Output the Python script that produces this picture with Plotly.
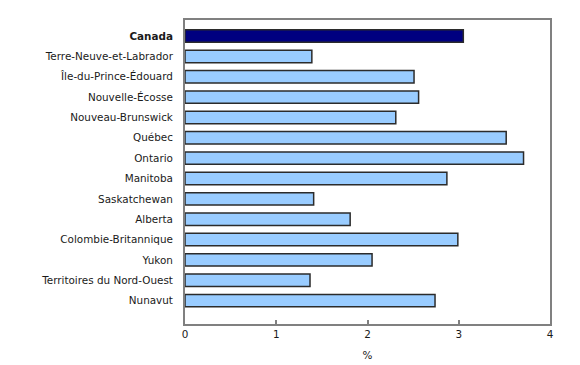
import plotly.graph_objects as go

regions = ["Canada", "Terre-Neuve-et-Labrador", "Île-du-Prince-Édouard", "Nouvelle-Écosse",
           "Nouveau-Brunswick", "Québec", "Ontario", "Manitoba", "Saskatchewan", "Alberta",
           "Colombie-Britannique", "Yukon", "Territoires du Nord-Ouest", "Nunavut"]
values = [3.05, 1.39, 2.51, 2.56, 2.31, 3.52, 3.71, 2.87, 1.41, 1.81, 2.99, 2.05, 1.37, 2.74]
x_ticks = [0, 1, 2, 3, 4]
x_title = "%"

colors = ["#000080"] + ["#99CCFF"] * (len(regions) - 1)
ticktext = ["<b>" + regions[0] + "</b>"] + regions[1:]

fig = go.Figure(go.Bar(
    x=values, y=list(range(len(regions))), orientation="h",
    marker=dict(color=colors, line=dict(color="#2b2b2b", width=1.5)),
    width=0.61,
))

fig.update_layout(
    width=580, height=365,
    margin=dict(l=185, r=30, t=20, b=41),
    plot_bgcolor="white", paper_bgcolor="white",
    font=dict(family="DejaVu Sans, Verdana, sans-serif", size=10.4, color="#1a1a1a"),
    showlegend=False,
    xaxis=dict(range=[0, 4], tickvals=x_ticks, ticks="inside", ticklen=4, tickcolor="#808080",
               tickwidth=1.5, automargin=False,
               showline=True, linecolor="#808080", linewidth=2, mirror=True,
               showgrid=False, zeroline=False,
               title=dict(text=x_title, standoff=12, font=dict(size=10.4))),
    yaxis=dict(range=[14.15, -0.79], tickvals=list(range(len(regions))), ticktext=ticktext,
               automargin=False,
               showline=True, linecolor="#808080", linewidth=2, mirror=True,
               showgrid=False, zeroline=False, ticks="", ticklabelstandoff=8),
)

fig.write_html("out.html")
